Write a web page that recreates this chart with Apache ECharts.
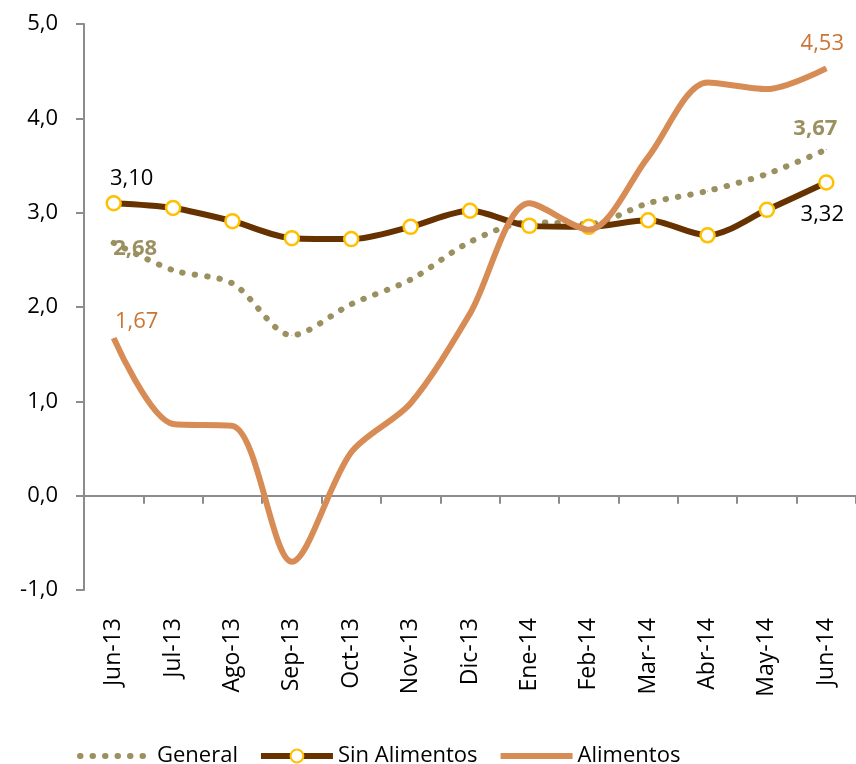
<!DOCTYPE html>
<html>
<head>
<meta charset="utf-8">
<script src="https://cdn.jsdelivr.net/npm/echarts@6/dist/echarts.min.js"></script>
<style>
  html, body { margin: 0; padding: 0; background: #fff; }
  #chart-container { width: 856px; height: 764px; }
</style>
</head>
<body>
<div id="chart-container"></div>
<script>
// Datos
var meses = ["Jun-13", "Jul-13", "Ago-13", "Sep-13", "Oct-13", "Nov-13", "Dic-13",
  "Ene-14", "Feb-14", "Mar-14", "Abr-14", "May-14", "Jun-14"];
var general = [2.68, 2.39, 2.25, 1.70, 2.03, 2.29, 2.69, 2.90, 2.88, 3.10, 3.23, 3.41, 3.67];
var sinAlimentos = [3.10, 3.05, 2.91, 2.73, 2.72, 2.85, 3.02, 2.86, 2.85, 2.92, 2.76, 3.03, 3.32];
var alimentos = [1.67, 0.76, 0.74, -0.70, 0.46, 0.98, 1.93, 3.10, 2.82, 3.59, 4.38, 4.31, 4.53];
var yTicks = [-1, 0, 1, 2, 3, 4, 5];

var fontFamily = "Open Sans";
var colGeneral = "#9b9060";
var colSin = "#663300";
var colAli = "#d88c55";

function fmt(v, d) {
  return v.toFixed(d).replace(".", ",");
}

// etiquetas solo en el primer y ultimo punto
function conEtiquetas(arr, first, last) {
  return arr.map(function (v, i) {
    if (i === 0) return { value: v, label: first };
    if (i === arr.length - 1) return { value: v, label: last };
    return v;
  });
}

function lbl(color, pos, offset, bold) {
  return {
    show: true,
    position: pos,
    offset: offset,
    color: color,
    fontSize: 22,
    fontFamily: fontFamily,
    fontWeight: bold ? "bold" : "normal",
    formatter: function (p) { return fmt(p.value, 2); }
  };
}

var chartDom = document.getElementById("chart-container");
var myChart = echarts.init(chartDom);

var option = {
  animation: false,
  grid: { left: 84, right: -4, top: 24, bottom: 174 },
  legend: {
    top: 740,
    left: 72,
    itemWidth: 72,
    itemHeight: 16,
    itemGap: 20,
    textStyle: { fontSize: 22, fontFamily: fontFamily, color: "#000" },
    data: [
      {
        name: "General",
        itemStyle: { opacity: 0 },
        lineStyle: { width: 6, type: [0.5, 12], cap: "round" }
      },
      {
        name: "Sin Alimentos",
        lineStyle: { width: 6 }
      },
      {
        name: "Alimentos",
        itemStyle: { opacity: 0 },
        lineStyle: { width: 6 }
      }
    ]
  },
  xAxis: [
    {
      type: "category",
      data: meses,
      boundaryGap: true,
      axisLine: { onZero: true, lineStyle: { color: "#8c8c8c", width: 2 } },
      axisTick: { show: true, length: 8, lineStyle: { color: "#8c8c8c", width: 2 } },
      axisLabel: { show: false }
    },
    {
      type: "category",
      data: meses,
      position: "bottom",
      boundaryGap: true,
      axisLine: { show: false, onZero: false },
      axisTick: { show: false },
      axisLabel: {
        rotate: 90,
        margin: 28,
        fontSize: 23,
        fontFamily: fontFamily,
        color: "#000",
        interval: 0
      }
    }
  ],
  yAxis: {
    type: "value",
    min: yTicks[0],
    max: yTicks[yTicks.length - 1],
    interval: 1,
    splitLine: { show: false },
    axisLine: { show: true, lineStyle: { color: "#8c8c8c", width: 2 } },
    axisTick: { show: true, length: 8, lineStyle: { color: "#8c8c8c", width: 2 } },
    axisLabel: {
      margin: 26,
      fontSize: 22,
      fontFamily: fontFamily,
      color: "#000",
      formatter: function (v) { return fmt(v, 1); }
    }
  },
  series: [
    {
      name: "General",
      type: "line",
      xAxisIndex: 0,
      smooth: 0.3,
      symbol: "circle",
      symbolSize: 1,
      itemStyle: { color: colGeneral },
      lineStyle: { color: colGeneral, width: 6, type: [0.5, 12], cap: "round" },
      data: conEtiquetas(general,
        lbl(colGeneral, "right", [-6, 6], true),
        lbl(colGeneral, "top", [-11, -4], true)),
      z: 2
    },
    {
      name: "Sin Alimentos",
      type: "line",
      xAxisIndex: 0,
      smooth: 0.3,
      symbol: "circle",
      symbolSize: 14,
      showSymbol: true,
      itemStyle: { color: "#fff", borderColor: "#ffc000", borderWidth: 2.5 },
      lineStyle: { color: colSin, width: 6 },
      data: conEtiquetas(sinAlimentos,
        lbl("#000", "top", [18, 0]),
        lbl("#000", "bottom", [-4, 8])),
      z: 3
    },
    {
      name: "Alimentos",
      type: "line",
      xAxisIndex: 0,
      smooth: 0.3,
      symbol: "circle",
      symbolSize: 1,
      itemStyle: { color: colAli },
      lineStyle: { color: colAli, width: 6 },
      data: conEtiquetas(alimentos,
        lbl("#c87535", "top", [23, 0]),
        lbl("#c87535", "top", [-4, -8])),
      z: 4
    }
  ]
};

myChart.setOption(option);
</script>
</body>
</html>
